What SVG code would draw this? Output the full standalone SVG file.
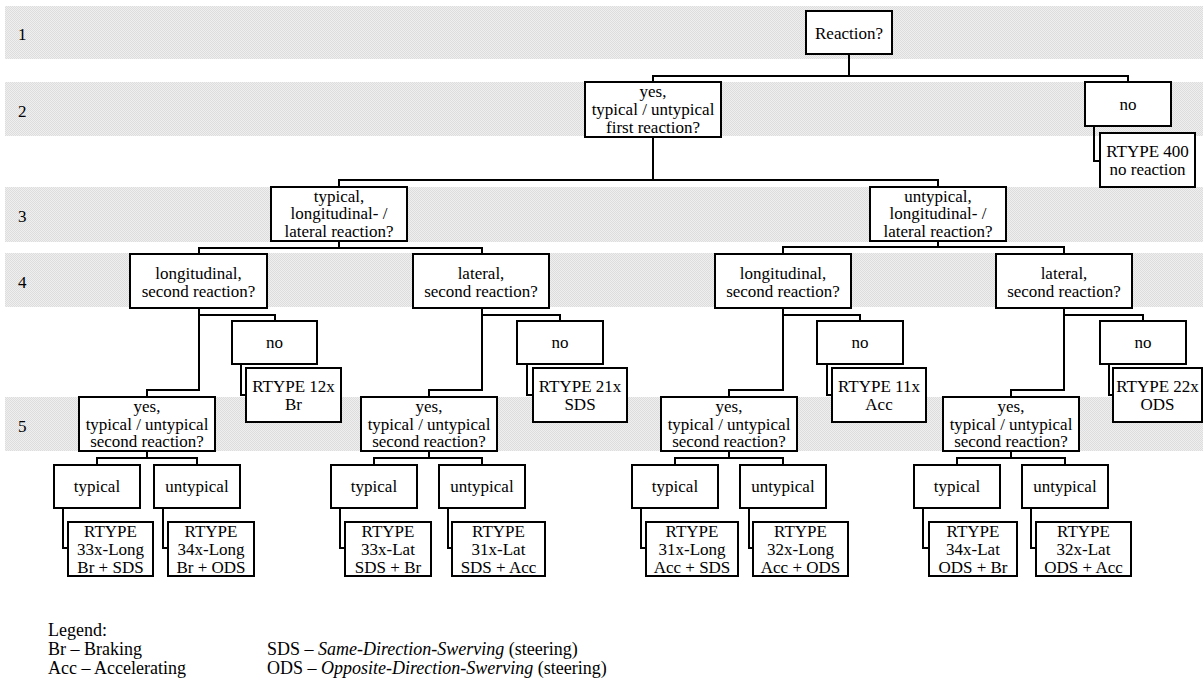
<svg xmlns="http://www.w3.org/2000/svg" width="1203" height="691" viewBox="0 0 1203 691" font-family="'Liberation Serif', 'DejaVu Serif', 'Noto Serif', serif">
<defs>
<pattern id="dots" width="2" height="2" patternUnits="userSpaceOnUse"><rect width="2" height="2" fill="#efefef"/><rect width="1" height="1" fill="#dddddd"/><rect x="1" y="1" width="1" height="1" fill="#dddddd"/></pattern>
<style>
.band{fill:url(#dots)}
.box{fill:#fff;stroke:#000;stroke-width:2}
.t{font-family:'Liberation Serif','DejaVu Serif','Noto Serif',serif;font-size:17px;text-anchor:middle;fill:#000}
.l{font-family:'Liberation Serif','DejaVu Serif','Noto Serif',serif;font-size:17px;fill:#000}
.lg{font-family:'Liberation Serif','DejaVu Serif','Noto Serif',serif;font-size:18px;fill:#000}
.c{fill:none;stroke:#000;stroke-width:2}
</style>
</defs>
<rect width="1203" height="691" fill="#fff"/>
<g id="bands">
<rect class="band" x="5" y="6" width="1198" height="53"/>
<rect class="band" x="5" y="82" width="1198" height="54"/>
<rect class="band" x="5" y="187" width="1198" height="55"/>
<rect class="band" x="5" y="253" width="1198" height="54"/>
<rect class="band" x="5" y="397" width="1198" height="54"/>
<text class="l" x="18" y="40">1</text>
<text class="l" x="18" y="117">2</text>
<text class="l" x="18" y="222">3</text>
<text class="l" x="18" y="288">4</text>
<text class="l" x="18" y="432">5</text>
</g>
<g id="connectors" class="c">
<path d="M849 54V76M653 82V76H1128V82"/>
<path d="M1094 126V161H1100"/>
<path d="M653 137V180M339 187V180H938V187"/>
<path d="M339 241V248M199 254V248H482V254"/>
<path d="M938 241V247M783 254V247H1064V254"/>
<path d="M199 308V390H147V397M199 315H275V321"/>
<path d="M482 308V390H429V397M482 315H560V321"/>
<path d="M783 308V390H729V397M783 315H860V321"/>
<path d="M1064 308V390H1011V397M1064 315H1143V321"/>
<path d="M241 364V395H246M527 364V395H533M827 364V395H832M1109 364V395H1113"/>
<path d="M147 451V458M97 465V458H197V465"/>
<path d="M429 451V458M374 465V458H482V465"/>
<path d="M729 451V458M675 465V458H783V465"/>
<path d="M1011 451V458M957 465V458H1065V465"/>
<path d="M63 508V548H68M163 508V548H168"/>
<path d="M340 508V548H345M448 508V548H452"/>
<path d="M641 508V548H646M749 508V548H753"/>
<path d="M923 508V548H929M1031 508V548H1036"/>
</g>
<g id="n-reaction"><rect class="box" x="806" y="11" width="86" height="43"/><text class="t" x="849" y="38.5">Reaction?</text></g>
<g id="n-yes1"><rect class="box" x="585" y="82" width="136" height="55"/><text class="t" x="653" y="97">yes,</text><text class="t" x="653" y="115">typical / untypical</text><text class="t" x="653" y="132.5">first reaction?</text></g>
<g id="n-no1"><rect class="box" x="1085" y="82" width="86" height="44"/><text class="t" x="1128" y="110">no</text></g>
<g id="n-rt400"><rect class="box" x="1100" y="133" width="95" height="54"/><text class="t" x="1147.5" y="157">RTYPE 400</text><text class="t" x="1147.5" y="175">no reaction</text></g>
<g id="n-typ1"><rect class="box" x="271" y="187" width="136" height="54"/><text class="t" x="339" y="201.5">typical,</text><text class="t" x="339" y="219">longitudinal- /</text><text class="t" x="339" y="237">lateral reaction?</text></g>
<g id="n-untyp1"><rect class="box" x="870" y="187" width="136" height="54"/><text class="t" x="938" y="201.5">untypical,</text><text class="t" x="938" y="219">longitudinal- /</text><text class="t" x="938" y="237">lateral reaction?</text></g>
<g id="n-long-t"><rect class="box" x="130" y="254" width="137" height="54"/><text class="t" x="198.5" y="279">longitudinal,</text><text class="t" x="198.5" y="297">second reaction?</text></g>
<g id="n-lat-t"><rect class="box" x="413" y="254" width="136" height="54"/><text class="t" x="481" y="279">lateral,</text><text class="t" x="481" y="297">second reaction?</text></g>
<g id="n-long-u"><rect class="box" x="715" y="254" width="136" height="54"/><text class="t" x="783" y="279">longitudinal,</text><text class="t" x="783" y="297">second reaction?</text></g>
<g id="n-lat-u"><rect class="box" x="996" y="254" width="136" height="54"/><text class="t" x="1064" y="279">lateral,</text><text class="t" x="1064" y="297">second reaction?</text></g>
<g id="n-no-g1"><rect class="box" x="232" y="321" width="85" height="43"/><text class="t" x="274.5" y="348">no</text></g>
<g id="n-no-g2"><rect class="box" x="517" y="321" width="86" height="43"/><text class="t" x="560" y="348">no</text></g>
<g id="n-no-g3"><rect class="box" x="817" y="321" width="86" height="43"/><text class="t" x="860" y="348">no</text></g>
<g id="n-no-g4"><rect class="box" x="1100" y="321" width="86" height="43"/><text class="t" x="1143" y="348">no</text></g>
<g id="n-rt12"><rect class="box" x="246" y="368" width="95" height="54"/><text class="t" x="293.5" y="391.5">RTYPE 12x</text><text class="t" x="293.5" y="409.5">Br</text></g>
<g id="n-rt21"><rect class="box" x="533" y="368" width="94" height="54"/><text class="t" x="580" y="391.5">RTYPE 21x</text><text class="t" x="580" y="409.5">SDS</text></g>
<g id="n-rt11"><rect class="box" x="832" y="368" width="94" height="54"/><text class="t" x="879" y="391.5">RTYPE 11x</text><text class="t" x="879" y="409.5">Acc</text></g>
<g id="n-rt22"><rect class="box" x="1113" y="368" width="89" height="54"/><text class="t" x="1157.5" y="391.5">RTYPE 22x</text><text class="t" x="1157.5" y="409.5">ODS</text></g>
<g id="n-yes-g1"><rect class="box" x="79" y="397" width="136" height="54"/><text class="t" x="147" y="412">yes,</text><text class="t" x="147" y="429.5">typical / untypical</text><text class="t" x="147" y="447">second reaction?</text></g>
<g id="n-yes-g2"><rect class="box" x="361" y="397" width="136" height="54"/><text class="t" x="429" y="412">yes,</text><text class="t" x="429" y="429.5">typical / untypical</text><text class="t" x="429" y="447">second reaction?</text></g>
<g id="n-yes-g3"><rect class="box" x="661" y="397" width="136" height="54"/><text class="t" x="729" y="412">yes,</text><text class="t" x="729" y="429.5">typical / untypical</text><text class="t" x="729" y="447">second reaction?</text></g>
<g id="n-yes-g4"><rect class="box" x="943" y="397" width="136" height="54"/><text class="t" x="1011" y="412">yes,</text><text class="t" x="1011" y="429.5">typical / untypical</text><text class="t" x="1011" y="447">second reaction?</text></g>
<g id="n-typ-g1"><rect class="box" x="54" y="465" width="86" height="43"/><text class="t" x="97" y="492">typical</text></g>
<g id="n-unt-g1"><rect class="box" x="154" y="465" width="86" height="43"/><text class="t" x="197" y="492">untypical</text></g>
<g id="n-typ-g2"><rect class="box" x="331" y="465" width="86" height="43"/><text class="t" x="374" y="492">typical</text></g>
<g id="n-unt-g2"><rect class="box" x="439" y="465" width="86" height="43"/><text class="t" x="482" y="492">untypical</text></g>
<g id="n-typ-g3"><rect class="box" x="632" y="465" width="86" height="43"/><text class="t" x="675" y="492">typical</text></g>
<g id="n-unt-g3"><rect class="box" x="740" y="465" width="86" height="43"/><text class="t" x="783" y="492">untypical</text></g>
<g id="n-typ-g4"><rect class="box" x="914" y="465" width="86" height="43"/><text class="t" x="957" y="492">typical</text></g>
<g id="n-unt-g4"><rect class="box" x="1022" y="465" width="86" height="43"/><text class="t" x="1065" y="492">untypical</text></g>
<g id="n-rt33l"><rect class="box" x="68" y="522" width="85" height="54"/><text class="t" x="110.5" y="537">RTYPE</text><text class="t" x="110.5" y="555">33x-Long</text><text class="t" x="110.5" y="573">Br + SDS</text></g>
<g id="n-rt34l"><rect class="box" x="168" y="522" width="86" height="54"/><text class="t" x="211" y="537">RTYPE</text><text class="t" x="211" y="555">34x-Long</text><text class="t" x="211" y="573">Br + ODS</text></g>
<g id="n-rt33lat"><rect class="box" x="345" y="522" width="86" height="54"/><text class="t" x="388" y="537">RTYPE</text><text class="t" x="388" y="555">33x-Lat</text><text class="t" x="388" y="573">SDS + Br</text></g>
<g id="n-rt31lat"><rect class="box" x="452" y="522" width="93" height="54"/><text class="t" x="498.5" y="537">RTYPE</text><text class="t" x="498.5" y="555">31x-Lat</text><text class="t" x="498.5" y="573">SDS + Acc</text></g>
<g id="n-rt31l"><rect class="box" x="646" y="522" width="92" height="54"/><text class="t" x="692" y="537">RTYPE</text><text class="t" x="692" y="555">31x-Long</text><text class="t" x="692" y="573">Acc + SDS</text></g>
<g id="n-rt32l"><rect class="box" x="753" y="522" width="95" height="54"/><text class="t" x="800.5" y="537">RTYPE</text><text class="t" x="800.5" y="555">32x-Long</text><text class="t" x="800.5" y="573">Acc + ODS</text></g>
<g id="n-rt34lat"><rect class="box" x="929" y="522" width="88" height="54"/><text class="t" x="973" y="537">RTYPE</text><text class="t" x="973" y="555">34x-Lat</text><text class="t" x="973" y="573">ODS + Br</text></g>
<g id="n-rt32lat"><rect class="box" x="1036" y="522" width="95" height="54"/><text class="t" x="1083.5" y="537">RTYPE</text><text class="t" x="1083.5" y="555">32x-Lat</text><text class="t" x="1083.5" y="573">ODS + Acc</text></g>
<g id="legend">
<text class="lg" x="48" y="636">Legend:</text>
<text class="lg" x="48" y="655">Br – Braking</text>
<text class="lg" x="48" y="674">Acc – Accelerating</text>
<text class="lg" x="267" y="655">SDS – <tspan font-style="italic">Same-Direction-Swerving</tspan> (steering)</text>
<text class="lg" x="267" y="674">ODS – <tspan font-style="italic">Opposite-Direction-Swerving</tspan> (steering)</text>
</g>
</svg>
